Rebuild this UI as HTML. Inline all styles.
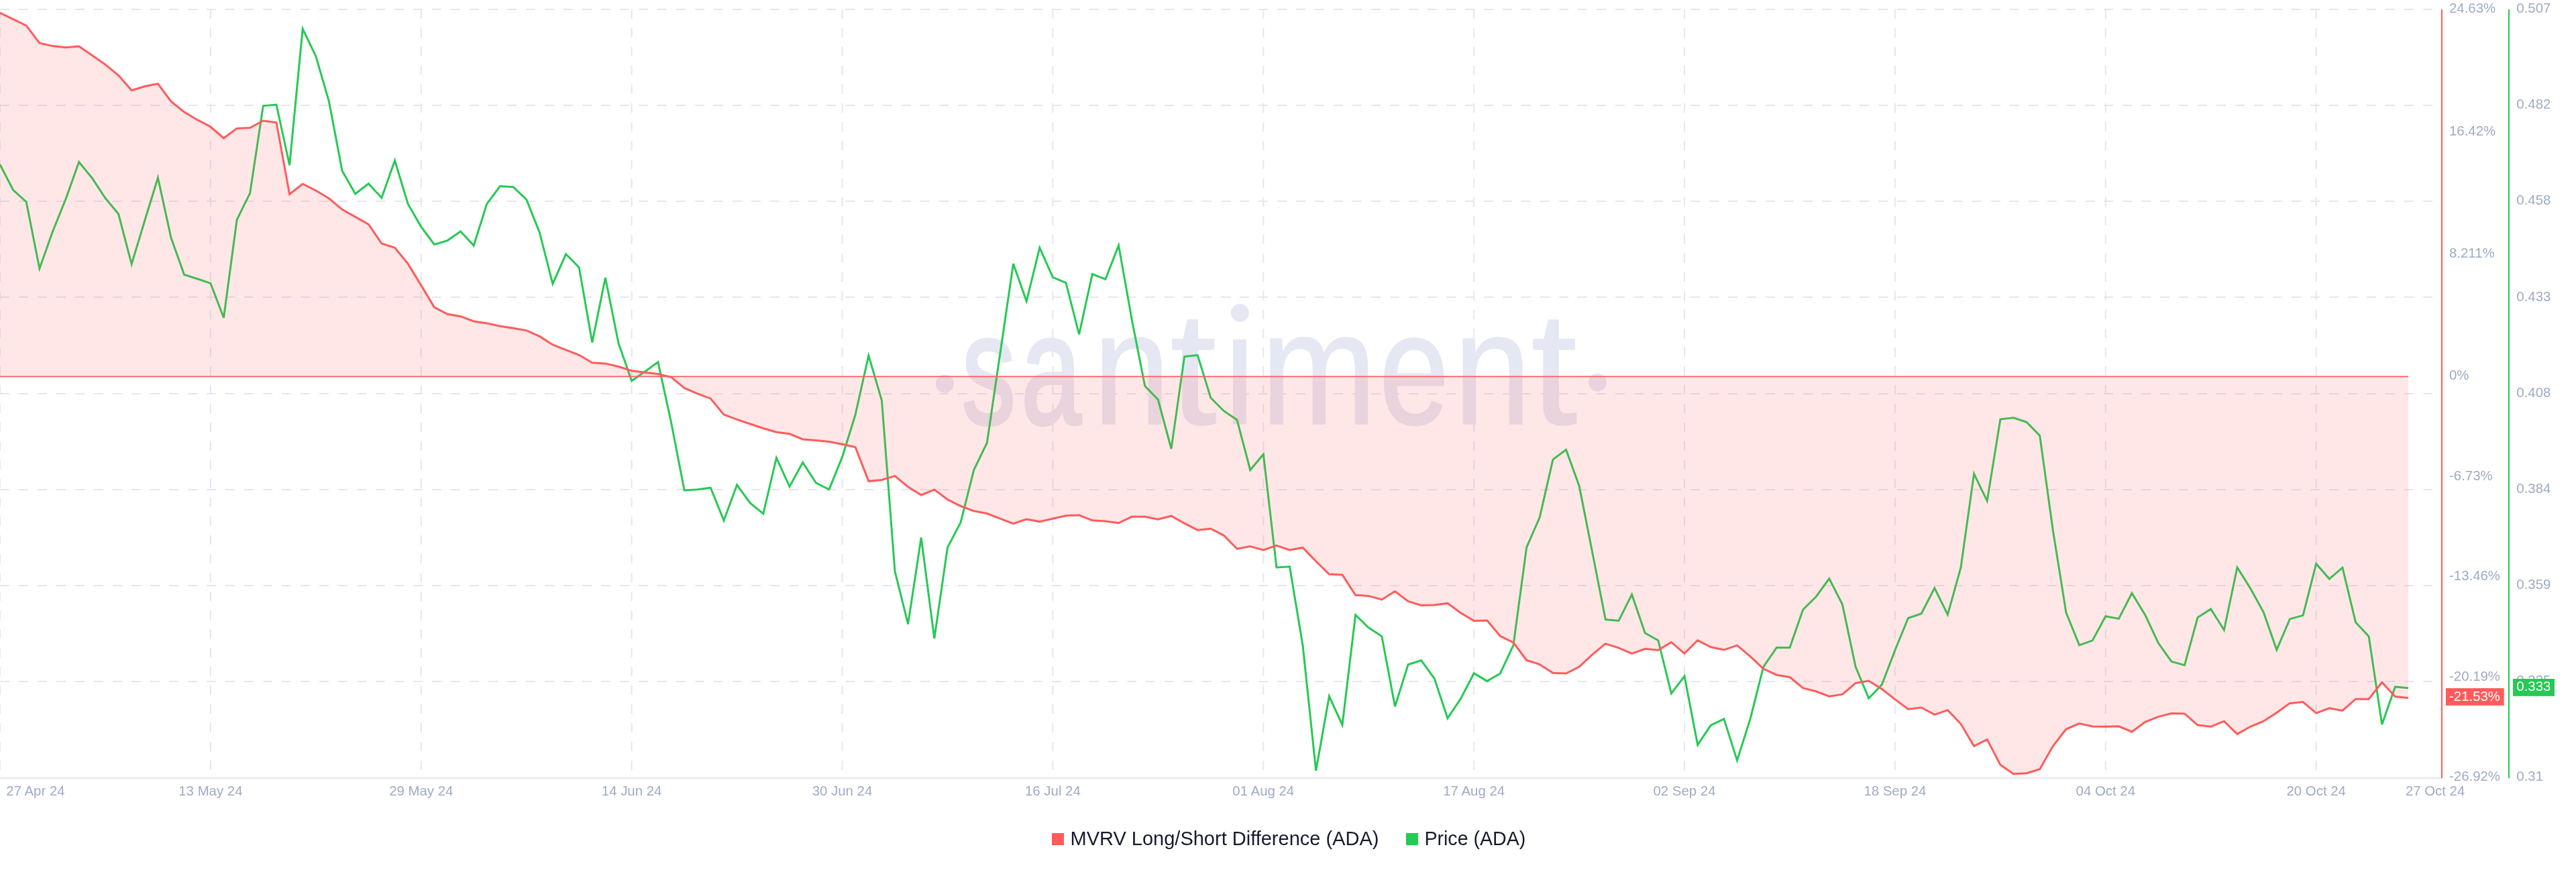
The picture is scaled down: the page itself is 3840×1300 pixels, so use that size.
<!DOCTYPE html>
<html><head><meta charset="utf-8"><style>
html,body{margin:0;padding:0;background:#fff;}
body{width:3840px;height:1300px;overflow:hidden;position:relative;font-family:"Liberation Sans",sans-serif;}
svg{position:absolute;left:0;top:0;will-change:transform;}
.lg{position:absolute;top:1236px;height:30px;font-size:26px;color:#181c2e;white-space:nowrap;line-height:30px;}
.sq{position:absolute;top:1242px;width:18px;height:18px;}
</style></head><body>
<svg width="3840" height="1300" viewBox="0 0 3840 1300">
<g stroke="#e4e7f1" stroke-width="2" fill="none">
<g stroke-dasharray="14 14">
<line x1="0" y1="14" x2="3626" y2="14"/>
<line x1="0" y1="157" x2="3626" y2="157"/>
<line x1="0" y1="300" x2="3626" y2="300"/>
<line x1="0" y1="443" x2="3626" y2="443"/>
<line x1="0" y1="587" x2="3626" y2="587"/>
<line x1="0" y1="730" x2="3626" y2="730"/>
<line x1="0" y1="873" x2="3626" y2="873"/>
<line x1="0" y1="1016" x2="3626" y2="1016"/>
<line x1="0" y1="14" x2="0" y2="1148"/>
<line x1="313.9" y1="14" x2="313.9" y2="1148"/>
<line x1="627.8" y1="14" x2="627.8" y2="1148"/>
<line x1="941.6" y1="14" x2="941.6" y2="1148"/>
<line x1="1255.5" y1="14" x2="1255.5" y2="1148"/>
<line x1="1569.4" y1="14" x2="1569.4" y2="1148"/>
<line x1="1883.3" y1="14" x2="1883.3" y2="1148"/>
<line x1="2197.2" y1="14" x2="2197.2" y2="1148"/>
<line x1="2511" y1="14" x2="2511" y2="1148"/>
<line x1="2824.9" y1="14" x2="2824.9" y2="1148"/>
<line x1="3138.8" y1="14" x2="3138.8" y2="1148"/>
<line x1="3452.7" y1="14" x2="3452.7" y2="1148"/>
</g>
</g>
<g fill="#e5e8f2" font-family="Liberation Sans, sans-serif">
<text transform="translate(1433.8,631.8) scale(0.6901,1)" font-size="233" stroke="#e5e8f2" stroke-width="5" stroke-linejoin="round">s</text>
<text transform="translate(1521.9,631.8) scale(0.6922,1)" font-size="233" stroke="#e5e8f2" stroke-width="5" stroke-linejoin="round">a</text>
<text transform="translate(1629.5,632.3) scale(0.8615,1)" font-size="239.3" stroke="#e5e8f2" stroke-width="1.5" stroke-linejoin="round">n</text>
<text transform="translate(1744.3,632.3) scale(1.0428,1)" font-size="239.3" stroke="#e5e8f2" stroke-width="1.5" stroke-linejoin="round">t</text>
<text transform="translate(1879.8,632.3) scale(0.8650,1)" font-size="239.3" stroke="#e5e8f2" stroke-width="1.5" stroke-linejoin="round">m</text>
<text transform="translate(2056.3,632) scale(0.7888,1)" font-size="236.6" stroke="#e5e8f2" stroke-width="3" stroke-linejoin="round">e</text>
<text transform="translate(2166.9,632.3) scale(0.8654,1)" font-size="239.3" stroke="#e5e8f2" stroke-width="1.5" stroke-linejoin="round">n</text>
<text transform="translate(2282.2,632.3) scale(1.0380,1)" font-size="239.3" stroke="#e5e8f2" stroke-width="1.5" stroke-linejoin="round">t</text>
<rect x="1838" y="506" width="19.8" height="126.5"/>
<circle cx="1848.4" cy="466.5" r="13.5"/>
<circle cx="1408.4" cy="572" r="13.5"/>
<circle cx="2381.4" cy="570" r="13.5"/>
</g>
<polyline points="0,245.3 19.6,283.3 39.2,301 58.9,400.4 78.5,345.3 98.1,296.5 117.7,241.5 137.3,265.5 156.9,295.3 176.6,319 196.2,393.8 215.8,328.8 235.4,265 255,354.5 274.6,409.5 294.3,415.8 313.9,422.4 333.5,473.8 353.1,327.7 372.7,287.8 392.3,157.8 412,156 431.6,246.3 451.2,43 470.8,83.7 490.4,151.2 510.1,254.7 529.7,289 549.3,273.8 568.9,294.9 588.5,239.3 608.1,303.9 627.8,338.1 647.4,364.5 667,358.6 686.6,345 706.2,366 725.8,303.9 745.5,277.5 765.1,278.7 784.7,297.3 804.3,346.5 823.9,423.2 843.6,378.8 863.2,398.6 882.8,510.5 902.4,414 922,511.7 941.6,567.8 961.3,553.9 980.9,539.9 1000.5,629.5 1020.1,730.9 1039.7,729.8 1059.3,727.2 1079,776 1098.6,722.8 1118.2,750 1137.8,765.8 1157.4,682.5 1177,725.4 1196.7,689.4 1216.3,719.9 1235.9,729.8 1255.5,681.4 1275.1,618.1 1294.8,530 1314.4,596.8 1334,851.5 1353.6,930.4 1373.2,801.5 1392.8,951.9 1412.5,816.1 1432.1,778.7 1451.7,700.6 1471.3,660.2 1490.9,527 1510.5,393.2 1530.2,449 1549.8,369.4 1569.4,413.4 1589,421.5 1608.6,498.5 1628.3,408.6 1647.9,416.3 1667.5,365.7 1687.1,475.8 1706.7,575.6 1726.3,595.8 1746,669 1765.6,531.6 1785.2,529.5 1804.8,593 1824.4,612.7 1844,625.9 1863.7,700.7 1883.3,677.2 1902.9,845.9 1922.5,844.8 1942.1,962.8 1961.7,1149 1981.4,1038 2001,1080.7 2020.6,916.7 2040.2,935.8 2059.8,948.6 2079.5,1053.2 2099.1,990.8 2118.7,984.6 2138.3,1011.7 2157.9,1070.8 2177.5,1041.5 2197.2,1003.7 2216.8,1015.4 2236.4,1004 2256,961.8 2275.6,816.1 2295.2,771.4 2314.9,685.1 2334.5,670.5 2354.1,724.4 2373.7,823.5 2393.3,923.5 2413,925.5 2432.6,886.2 2452.2,943.7 2471.8,954.7 2491.4,1033.8 2511,1008.1 2530.7,1110.5 2550.3,1081.1 2569.9,1071.9 2589.5,1133.6 2609.1,1071.9 2628.7,994.1 2648.4,965.5 2668,965.5 2687.6,909 2707.2,889.5 2726.8,862.6 2746.4,901.1 2766.1,994.1 2785.7,1041.1 2805.3,1020.6 2824.9,969.2 2844.5,921.5 2864.2,914.7 2883.8,876.5 2903.4,916.3 2923,846 2942.6,706.4 2962.2,746.8 2981.9,625 3001.5,622.8 3021.1,629.4 3040.7,649.5 3060.3,790.8 3079.9,913.2 3099.6,961.8 3119.2,954.9 3138.8,918.7 3158.4,922.4 3178,884.4 3197.7,916.7 3217.3,958.5 3236.9,986.1 3256.5,991.6 3276.1,920.4 3295.7,907.9 3315.4,939.4 3335,845.9 3354.6,877.1 3374.2,912.7 3393.8,968.8 3413.4,922.9 3433.1,917.4 3452.7,840.4 3472.3,863.1 3491.9,846.2 3511.5,927.7 3531.1,948.6 3550.8,1080 3570.4,1023.9 3590,1025.7" fill="none" stroke="#26c953" stroke-width="3" stroke-linejoin="miter" stroke-miterlimit="4"/>
<polygon points="0,561.1 0,19.1 19.6,28.6 39.2,38.2 58.9,64.2 78.5,68.6 98.1,70.8 117.7,69 137.3,82.6 156.9,96.1 176.6,112.3 196.2,134.7 215.8,128.8 235.4,124.8 255,151.2 274.6,167 294.3,178.7 313.9,189 333.5,206 353.1,191.4 372.7,190.6 392.3,180 412,182.6 431.6,289.5 451.2,274.2 470.8,284 490.4,295.8 510.1,312.2 529.7,323.4 549.3,334.4 568.9,363 588.5,369.3 608.1,393.1 627.8,425.4 647.4,458.1 667,468.3 686.6,471.7 706.2,479 725.8,481.9 745.5,486.3 765.1,489.3 784.7,492.6 804.3,501.4 823.9,513.9 843.6,521.6 863.2,529.3 882.8,540.8 902.4,541.9 922,546.5 941.6,552.8 961.3,555.3 980.9,557.5 1000.5,562.3 1020.1,578.4 1039.7,586.9 1059.3,594.2 1079,618.1 1098.6,625.4 1118.2,632 1137.8,638.5 1157.4,644.3 1177,646.8 1196.7,655 1216.3,656.4 1235.9,658.6 1255.5,662.3 1275.1,666.7 1294.8,717.3 1314.4,715.5 1334,709.6 1353.6,725.8 1373.2,738 1392.8,729.9 1412.5,744.6 1432.1,754.5 1451.7,761.8 1471.3,765.5 1490.9,773.2 1510.5,780.6 1530.2,774 1549.8,777.6 1569.4,773.2 1589,768.8 1608.6,768.1 1628.3,775.8 1647.9,776.9 1667.5,779.8 1687.1,770.3 1706.7,770.3 1726.3,774.3 1746,769.2 1765.6,780.2 1785.2,790.2 1804.8,788.2 1824.4,798.3 1844,818.2 1863.7,814.6 1883.3,820 1902.9,813.3 1922.5,820 1942.1,816.4 1961.7,836.7 1981.4,856.1 2001,856.9 2020.6,887.3 2040.2,888.4 2059.8,893.9 2079.5,881.5 2099.1,896.5 2118.7,902.4 2138.3,902 2157.9,899.4 2177.5,913.8 2197.2,925.5 2216.8,925.1 2236.4,948.3 2256,958 2275.6,984.2 2295.2,990.5 2314.9,1003.3 2334.5,1004 2354.1,994.1 2373.7,975.8 2393.3,959.6 2413,965.9 2432.6,974.3 2452.2,967.3 2471.8,969.2 2491.4,957.4 2511,974.3 2530.7,954.5 2550.3,964.8 2569.9,968.8 2589.5,962.2 2609.1,978.7 2628.7,997.1 2648.4,1006.2 2668,1009.5 2687.6,1025.7 2707.2,1030.8 2726.8,1038.2 2746.4,1035.2 2766.1,1018.3 2785.7,1015 2805.3,1027.2 2824.9,1042.6 2844.5,1057.2 2864.2,1054.7 2883.8,1065.3 2903.4,1058.7 2923,1079.3 2942.6,1112.3 2962.2,1102.4 2981.9,1140.2 3001.5,1153.8 3021.1,1152.7 3040.7,1146.8 3060.3,1112.3 3079.9,1087 3099.6,1078.5 3119.2,1082.9 3138.8,1083.3 3158.4,1082.8 3178,1091 3197.7,1076.3 3217.3,1068.6 3236.9,1063.5 3256.5,1063.9 3276.1,1081.1 3295.7,1083.3 3315.4,1075.2 3335,1094.3 3354.6,1083.3 3374.2,1075.2 3393.8,1062.4 3413.4,1048.4 3433.1,1046.6 3452.7,1063.1 3472.3,1055.8 3491.9,1059.4 3511.5,1042.2 3531.1,1042.2 3550.8,1017.2 3570.4,1038.5 3590,1040.4 3590,561.1" fill="rgba(255,91,91,0.15)"/>
<line x1="0" y1="561.4" x2="3590" y2="561.4" stroke="#ff5b5b" stroke-width="1.8"/>
<polyline points="0,19.1 19.6,28.6 39.2,38.2 58.9,64.2 78.5,68.6 98.1,70.8 117.7,69 137.3,82.6 156.9,96.1 176.6,112.3 196.2,134.7 215.8,128.8 235.4,124.8 255,151.2 274.6,167 294.3,178.7 313.9,189 333.5,206 353.1,191.4 372.7,190.6 392.3,180 412,182.6 431.6,289.5 451.2,274.2 470.8,284 490.4,295.8 510.1,312.2 529.7,323.4 549.3,334.4 568.9,363 588.5,369.3 608.1,393.1 627.8,425.4 647.4,458.1 667,468.3 686.6,471.7 706.2,479 725.8,481.9 745.5,486.3 765.1,489.3 784.7,492.6 804.3,501.4 823.9,513.9 843.6,521.6 863.2,529.3 882.8,540.8 902.4,541.9 922,546.5 941.6,552.8 961.3,555.3 980.9,557.5 1000.5,562.3 1020.1,578.4 1039.7,586.9 1059.3,594.2 1079,618.1 1098.6,625.4 1118.2,632 1137.8,638.5 1157.4,644.3 1177,646.8 1196.7,655 1216.3,656.4 1235.9,658.6 1255.5,662.3 1275.1,666.7 1294.8,717.3 1314.4,715.5 1334,709.6 1353.6,725.8 1373.2,738 1392.8,729.9 1412.5,744.6 1432.1,754.5 1451.7,761.8 1471.3,765.5 1490.9,773.2 1510.5,780.6 1530.2,774 1549.8,777.6 1569.4,773.2 1589,768.8 1608.6,768.1 1628.3,775.8 1647.9,776.9 1667.5,779.8 1687.1,770.3 1706.7,770.3 1726.3,774.3 1746,769.2 1765.6,780.2 1785.2,790.2 1804.8,788.2 1824.4,798.3 1844,818.2 1863.7,814.6 1883.3,820 1902.9,813.3 1922.5,820 1942.1,816.4 1961.7,836.7 1981.4,856.1 2001,856.9 2020.6,887.3 2040.2,888.4 2059.8,893.9 2079.5,881.5 2099.1,896.5 2118.7,902.4 2138.3,902 2157.9,899.4 2177.5,913.8 2197.2,925.5 2216.8,925.1 2236.4,948.3 2256,958 2275.6,984.2 2295.2,990.5 2314.9,1003.3 2334.5,1004 2354.1,994.1 2373.7,975.8 2393.3,959.6 2413,965.9 2432.6,974.3 2452.2,967.3 2471.8,969.2 2491.4,957.4 2511,974.3 2530.7,954.5 2550.3,964.8 2569.9,968.8 2589.5,962.2 2609.1,978.7 2628.7,997.1 2648.4,1006.2 2668,1009.5 2687.6,1025.7 2707.2,1030.8 2726.8,1038.2 2746.4,1035.2 2766.1,1018.3 2785.7,1015 2805.3,1027.2 2824.9,1042.6 2844.5,1057.2 2864.2,1054.7 2883.8,1065.3 2903.4,1058.7 2923,1079.3 2942.6,1112.3 2962.2,1102.4 2981.9,1140.2 3001.5,1153.8 3021.1,1152.7 3040.7,1146.8 3060.3,1112.3 3079.9,1087 3099.6,1078.5 3119.2,1082.9 3138.8,1083.3 3158.4,1082.8 3178,1091 3197.7,1076.3 3217.3,1068.6 3236.9,1063.5 3256.5,1063.9 3276.1,1081.1 3295.7,1083.3 3315.4,1075.2 3335,1094.3 3354.6,1083.3 3374.2,1075.2 3393.8,1062.4 3413.4,1048.4 3433.1,1046.6 3452.7,1063.1 3472.3,1055.8 3491.9,1059.4 3511.5,1042.2 3531.1,1042.2 3550.8,1017.2 3570.4,1038.5 3590,1040.4" fill="none" stroke="#ff5b5b" stroke-width="3" stroke-linejoin="miter" stroke-miterlimit="4"/>
<line x1="0" y1="1160" x2="3640" y2="1160" stroke="#e3e7f1" stroke-width="2"/>
<line x1="3640" y1="14" x2="3640" y2="1160" stroke="#ff5b5b" stroke-width="2"/>
<line x1="3740" y1="14" x2="3740" y2="1160" stroke="#26c953" stroke-width="2"/>
<g font-size="20.4" fill="#9faac4" font-family="Liberation Sans, sans-serif">
<text x="9.3" y="1186" text-anchor="start">27 Apr 24</text>
<text x="313.9" y="1186" text-anchor="middle">13 May 24</text>
<text x="627.8" y="1186" text-anchor="middle">29 May 24</text>
<text x="941.6" y="1186" text-anchor="middle">14 Jun 24</text>
<text x="1255.5" y="1186" text-anchor="middle">30 Jun 24</text>
<text x="1569.4" y="1186" text-anchor="middle">16 Jul 24</text>
<text x="1883.3" y="1186" text-anchor="middle">01 Aug 24</text>
<text x="2197.2" y="1186" text-anchor="middle">17 Aug 24</text>
<text x="2511" y="1186" text-anchor="middle">02 Sep 24</text>
<text x="2824.9" y="1186" text-anchor="middle">18 Sep 24</text>
<text x="3138.8" y="1186" text-anchor="middle">04 Oct 24</text>
<text x="3452.7" y="1186" text-anchor="middle">20 Oct 24</text>
<text x="3585.9" y="1186" text-anchor="start">27 Oct 24</text>
<text x="3651" y="19.2">24.63%</text>
<text x="3651" y="201.6">16.42%</text>
<text x="3651" y="383.9">8.211%</text>
<text x="3651" y="566.3">0%</text>
<text x="3651" y="715.8">-6.73%</text>
<text x="3651" y="865.3">-13.46%</text>
<text x="3651" y="1014.7">-20.19%</text>
<text x="3651" y="1164.2">-26.92%</text>
<text x="3751.3" y="19.2">0.507</text>
<text x="3751.3" y="162.3">0.482</text>
<text x="3751.3" y="305.4">0.458</text>
<text x="3751.3" y="448.6">0.433</text>
<text x="3751.3" y="591.7">0.408</text>
<text x="3751.3" y="734.8">0.384</text>
<text x="3751.3" y="878">0.359</text>
<text x="3751.3" y="1021.1">0.335</text>
<text x="3751.3" y="1164.2">0.31</text>
</g>
<rect x="3646" y="1026" width="86.7" height="25.8" fill="#ff5b5b"/>
<text x="3651" y="1045.4" font-size="20.4" fill="#fff" font-family="Liberation Sans, sans-serif">-21.53%</text>
<rect x="3746" y="1012" width="62" height="25.8" fill="#26c953"/>
<text x="3751.3" y="1030.3" font-size="20.4" fill="#fff" font-family="Liberation Sans, sans-serif">0.333</text>
</svg>
<svg width="3840" height="1300" style="position:absolute;left:0;top:0">
<rect x="1568" y="1242" width="18" height="18" fill="#ff5b5b"/>
<rect x="2096" y="1242" width="18" height="18" fill="#26c953"/>
<g font-family="Liberation Sans, sans-serif" font-size="29" fill="#161b2d">
<text x="1595.5" y="1260">MVRV Long/Short Difference (ADA)</text>
<text x="2123.4" y="1260" font-size="28.6">Price (ADA)</text>
</g>
</svg>
</body></html>
